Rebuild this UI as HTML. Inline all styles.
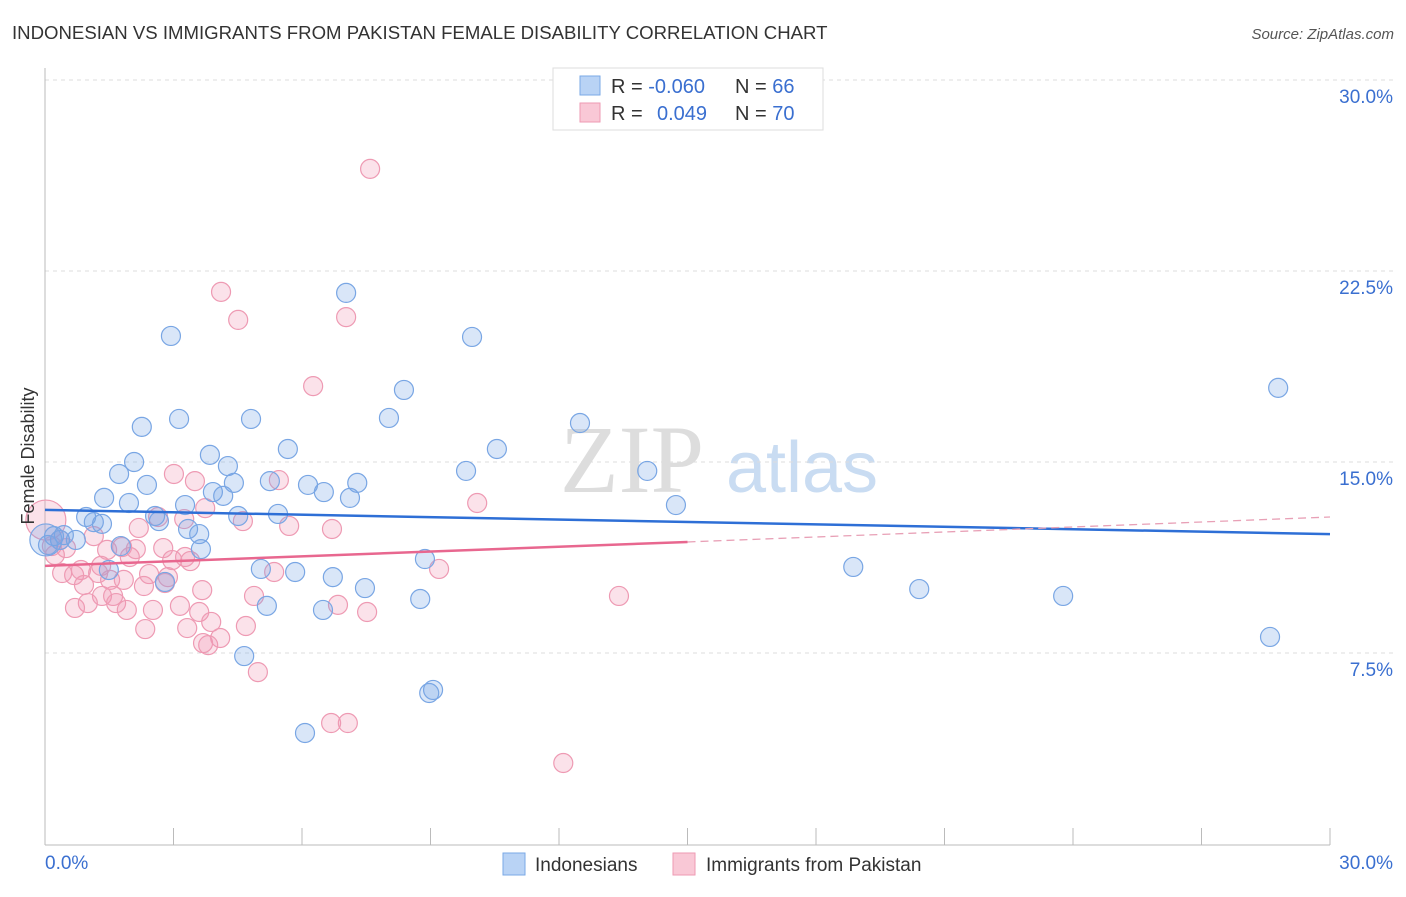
<!DOCTYPE html>
<html><head><meta charset="utf-8"><style>
body{margin:0;background:#fff;font-family:"Liberation Sans",sans-serif;}
svg text{font-family:"Liberation Sans",sans-serif;}
</style></head><body>
<svg id="chart" width="1406" height="892" xmlns="http://www.w3.org/2000/svg">
<text x="12" y="39" font-size="18.6" fill="#333">INDONESIAN VS IMMIGRANTS FROM PAKISTAN FEMALE DISABILITY CORRELATION CHART</text>
<text x="1394" y="39" font-size="15" fill="#555" font-style="italic" text-anchor="end">Source: ZipAtlas.com</text>
<g>
<text x="632" y="492" font-size="96" fill="#ddd" text-anchor="middle" font-family="Liberation Serif" style="font-family:'Liberation Serif',serif">ZIP</text>
<text x="802" y="492" font-size="72" fill="#c9dcf2" text-anchor="middle">atlas</text>
</g>
<g id="grid"></g>
<g id="axes"></g>
<g id="marks"></g>
<g>
<rect x="553" y="68" width="270" height="62" fill="#fff" stroke="#ddd"/>
<rect x="580" y="76" width="20" height="19" fill="#b9d3f5" stroke="#7aa8e6"/>
<rect x="580" y="103" width="20" height="19" fill="#f9c8d6" stroke="#ee9ab3"/>
<text x="611" y="93" font-size="20" fill="#333">R = <tspan fill="#3a6fd0">-0.060</tspan></text>
<text x="735" y="93" font-size="20" fill="#333">N = <tspan fill="#3a6fd0">66</tspan></text>
<text x="611" y="120" font-size="20" fill="#333">R = </text>
<text x="657" y="120" font-size="20" fill="#3a6fd0">0.049</text>
<text x="735" y="120" font-size="20" fill="#333">N = <tspan fill="#3a6fd0">70</tspan></text>
</g>
<g>
<rect x="503" y="853" width="22" height="22" fill="#b9d3f5" stroke="#7aa8e6"/>
<text x="535" y="871" font-size="19" fill="#333">Indonesians</text>
<rect x="673" y="853" width="22" height="22" fill="#f9c8d6" stroke="#ee9ab3"/>
<text x="706" y="871" font-size="19" fill="#333">Immigrants from Pakistan</text>
</g>
<text transform="translate(34,456) rotate(-90)" font-size="18" fill="#333" text-anchor="middle">Female Disability</text>
</svg>
<script>
const yTicks=[7.5,15,22.5,30];
const yTickLabels=["7.5%","15.0%","22.5%","30.0%"];
const xTickCount=10;
const blueX=[2.94,7.03,9.97,28.79,8.38,2.26,3.13,4.81,8.03,12.49,5.67,10.55,2.08,3.85,4.27,9.83,14.06,1.73,2.38,4.41,5.25,7.29,1.38,1.96,3.27,3.92,4.16,6.14,6.51,7.12,14.73,2.57,2.66,4.51,5.44,0.96,1.14,3.34,3.60,0.21,0.35,0.72,0.44,0.02,1.77,3.64,8.87,5.04,5.84,1.49,2.80,6.72,18.87,7.47,20.41,23.77,5.18,6.49,8.76,28.60,4.65,9.06,8.97,6.07,0.07,1.33];
const blueY=[19.95,21.64,19.91,17.91,17.83,16.38,16.69,16.69,16.73,16.53,15.51,15.51,15.0,15.28,14.84,14.65,14.65,14.53,14.10,14.18,14.25,14.18,13.59,13.39,13.31,13.82,13.67,14.10,13.82,13.59,13.31,12.88,12.68,12.88,12.96,12.84,12.64,12.37,12.17,12.09,11.94,11.94,12.13,11.94,11.70,11.58,11.19,10.80,10.68,10.76,10.29,10.48,10.88,10.05,10.01,9.74,9.35,9.19,9.62,8.13,7.38,6.05,5.93,4.36,11.74,12.57];
const blueR=[];blueX.forEach((v,i)=>blueR.push(i===43?16:9.5));
const pinkX=[7.59,4.11,4.51,7.03,6.26,3.01,3.50,5.46,10.09,3.74,4.62,5.70,6.70,2.19,2.64,3.25,0.16,0.02,0.49,1.14,1.45,1.80,2.12,2.76,2.97,3.27,3.39,1.31,1.98,0.40,0.68,0.84,1.24,2.43,2.87,9.20,0.91,1.52,1.84,2.31,2.80,4.88,5.35,3.67,1.33,1.59,1.00,1.66,1.91,0.70,2.52,3.15,3.60,6.84,7.52,13.40,3.88,4.69,3.32,2.34,4.09,3.69,3.81,4.97,6.68,7.07,12.10,0.23,0.35];
const pinkY=[26.51,21.68,20.58,20.69,17.98,14.53,14.25,14.29,13.39,13.19,12.68,12.49,12.37,12.41,12.84,12.76,11.70,12.72,11.62,12.09,11.55,11.66,11.58,11.62,11.15,11.27,11.11,10.92,11.27,10.64,10.56,10.76,10.64,10.60,10.48,10.80,10.17,10.37,10.37,10.13,10.25,9.74,10.68,9.97,9.74,9.74,9.46,9.46,9.19,9.27,9.19,9.35,9.11,9.39,9.11,9.74,8.72,8.56,8.48,8.44,8.09,7.89,7.81,6.75,4.75,4.75,3.18,11.35,11.94];
const blueTrend=[13.12,12.17];
const pinkTrend=[10.92,11.86,12.84];
const pinkSolidEnd=15;
const NS="http://www.w3.org/2000/svg";
const X0=45,X1=1330,Y0=844,Y30=80;
const sx=v=>X0+v/30*(X1-X0);
const sy=v=>Y0-v/30*(Y0-Y30);
function mk(tag,attrs,parent){const e=document.createElementNS(NS,tag);for(const k in attrs)e.setAttribute(k,attrs[k]);parent.appendChild(e);return e;}
const grid=document.getElementById('grid'),axes=document.getElementById('axes'),marks=document.getElementById('marks');
yTicks.forEach((t,i)=>{
 const l=mk('line',{x1:X0,x2:1395,y1:sy(t),y2:sy(t),stroke:'#ddd','stroke-dasharray':'4,4'},grid);
 
 
 const tx=mk('text',{x:1393,y:sy(t)+23,'font-size':19,fill:'#3a6fd0','text-anchor':'end'},axes);
 tx.textContent=yTickLabels[i];
 
 
});
const ya=mk('line',{x1:X0,x2:X0,y1:68,y2:845,stroke:'#bbb'},axes);


const xa=mk('line',{x1:X0,x2:X1,y1:845,y2:845,stroke:'#bbb'},axes);


for(let i=0;i<=xTickCount;i++){
 const t=mk('line',{x1:sx(i*3),x2:sx(i*3),y1:828,y2:845,stroke:'#bbb'},axes);
 
 
}
const xl0=mk('text',{x:45,y:869,'font-size':19,fill:'#3a6fd0'},axes);xl0.textContent='0.0%';


const xl1=mk('text',{x:1393,y:869,'font-size':19,fill:'#3a6fd0','text-anchor':'end'},axes);xl1.textContent='30.0%';


pinkX.forEach((v,i)=>{
 const r=(i===17)?20:9.5;
 const c=mk('circle',{cx:sx(v),cy:sy(pinkY[i]),r:r,fill:'rgba(242,150,180,0.28)',stroke:'#ee9ab3','stroke-width':1.2},marks);
 
 
});
blueX.forEach((v,i)=>{
 const c=mk('circle',{cx:sx(v),cy:sy(blueY[i]),r:blueR[i],fill:'rgba(120,165,230,0.28)',stroke:'#79a6e4','stroke-width':1.2},marks);
 
 
});
const bt=mk('line',{x1:sx(0),y1:sy(blueTrend[0]),x2:sx(30),y2:sy(blueTrend[1]),stroke:'#2e6fd6','stroke-width':2.5},marks);


const pt=mk('line',{x1:sx(0),y1:sy(pinkTrend[0]),x2:sx(pinkSolidEnd),y2:sy(pinkTrend[1]),stroke:'#e8678f','stroke-width':2.5},marks);


const pd=mk('line',{x1:sx(pinkSolidEnd),y1:sy(pinkTrend[1]),x2:sx(30),y2:sy(pinkTrend[2]),stroke:'#e8a0b6','stroke-width':1.3,'stroke-dasharray':'8,5'},marks);


</script>
</body></html>
